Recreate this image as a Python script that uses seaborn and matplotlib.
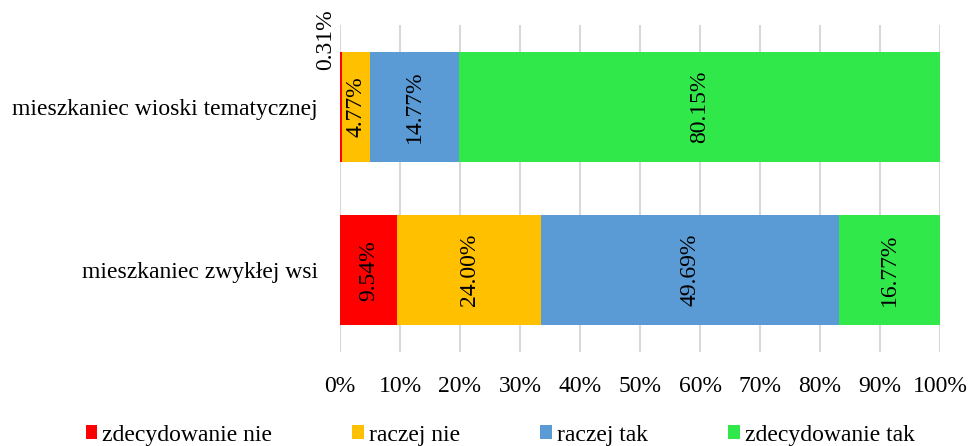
import matplotlib
matplotlib.use("Agg")
import matplotlib.pyplot as plt
import seaborn as sns
import pandas as pd
import numpy as np

groups = ["mieszkaniec wioski tematycznej", "mieszkaniec zwykłej wsi"]
series = ["zdecydowanie nie", "raczej nie", "raczej tak", "zdecydowanie tak"]
zdecydowanie_nie = [0.31, 9.54]
raczej_nie = [4.77, 24.00]
raczej_tak = [14.77, 49.69]
zdecydowanie_tak = [80.15, 16.77]
colors = ["#FF0000", "#FFC000", "#5B9BD5", "#31E84B"]
xticks = [0, 10, 20, 30, 40, 50, 60, 70, 80, 90, 100]

values = np.array([zdecydowanie_nie, raczej_nie, raczej_tak, zdecydowanie_tak])
cum = np.cumsum(values, axis=0)

sns.set_theme(style="white")
plt.rcParams["font.family"] = ["Liberation Serif", "DejaVu Serif"]
plt.rcParams["text.color"] = "black"
plt.rcParams["xtick.color"] = "black"
plt.rcParams["ytick.color"] = "black"
FS = 17

fig = plt.figure(figsize=(9.7, 4.46), dpi=100)
ax = fig.add_axes([340 / 970, 94 / 446, 600 / 970, 327 / 446])

# draw stacked bars as overlaid cumulative totals (largest first)
for i in range(len(series) - 1, -1, -1):
    df = pd.DataFrame({"grupa": groups, "wartosc": cum[i]})
    sns.barplot(data=df, x="wartosc", y="grupa", orient="h", color=colors[i],
                saturation=1, width=0.675, linewidth=0,
                ax=ax, label=series[i])

ax.set_xlim(0, 100)
ax.set_ylim(1.5, -0.5)
ax.set_xticks(xticks)
ax.set_xticklabels([f"{t}%" for t in xticks], fontsize=FS)
ax.tick_params(axis="x", length=0, pad=17, colors="black")
ax.tick_params(axis="y", length=0, pad=16, labelsize=FS, colors="black")
ax.set_xlabel("")
ax.set_ylabel("")
ax.xaxis.grid(True, color="#D9D9D9", linewidth=1.5, zorder=0)
ax.set_axisbelow(True)
for s in ax.spines.values():
    s.set_visible(False)

# data labels
for gi in range(len(groups)):
    for si in range(len(series)):
        v = values[si][gi]
        start = cum[si][gi] - v
        if v < 2:
            ax.annotate(f"{v:.2f}%", xy=(start + v / 2, gi - 0.41), xytext=(-15, 0),
                        textcoords="offset pixels", rotation=90, ha="center",
                        va="center", fontsize=FS, color="black",
                        annotation_clip=False)
        else:
            ax.text(start + v / 2, gi, f"{v:.2f}%", rotation=90, ha="center",
                    va="center", fontsize=FS, color="black", zorder=10)

# legend in series order
handles, labels = ax.get_legend_handles_labels()
order = [labels.index(s) for s in series]
leg = fig.legend([handles[k] for k in order], [labels[k] for k in order],
                 loc="center", bbox_to_anchor=(500 / 970, 11 / 446), ncol=4,
                 frameon=False, fontsize=FS, handlelength=0.5, handleheight=0.5,
                 handletextpad=0.2, columnspacing=3.4, borderpad=0)
if ax.get_legend() is not None:
    ax.get_legend().remove()

fig.savefig("out.png", dpi=100)
